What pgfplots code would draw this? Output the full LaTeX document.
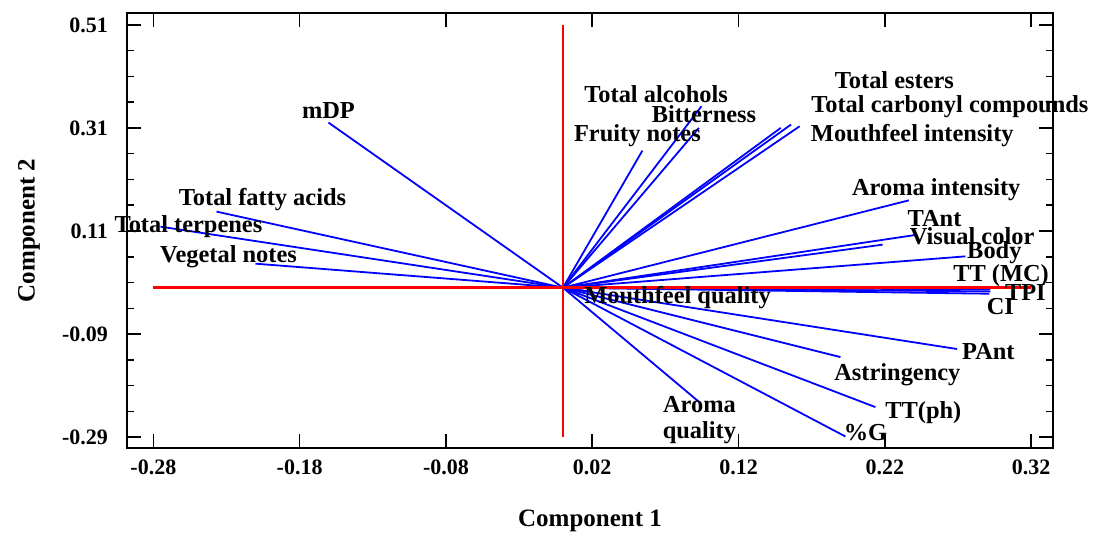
\documentclass[border=0pt]{standalone}
\usepackage{pgfplots}
\pgfplotsset{compat=1.18}
\usepackage{fontspec}
\setmainfont{Liberation Serif}

\begin{document}
\begin{tikzpicture}[
  vec/.style={blue, line width=0.9pt},
  lab/.style={font=\fontsize{12.2}{13}\selectfont\bfseries, inner sep=0pt},
]
\begin{axis}[
  scale only axis, width=463pt, height=217.5pt,
  xmin=-0.298, xmax=0.335, ymin=-0.311, ymax=0.533,
  xtick={-0.28,-0.18,-0.08,0.02,0.12,0.22,0.32},
  xticklabels={-0.28,-0.18,-0.08,0.02,0.12,0.22,0.32},
  ytick={-0.29,-0.09,0.11,0.31,0.51},
  yticklabels={-0.29,-0.09,0.11,0.31,0.51},
  minor y tick num=3,
  tick align=inside,
  major tick length=7pt, minor tick length=3.5pt,
  axis line style={line width=1pt},
  every tick/.style={black, line width=0.8pt},
  ticklabel style={font=\fontsize{11}{13}\selectfont\bfseries},
  xticklabel style={yshift=-2.5pt},
  yticklabel style={xshift=-6pt},
  xlabel={Component 1}, ylabel={Component 2},
  label style={font=\fontsize{12.5}{15}\selectfont\bfseries},
  xlabel style={at={(axis description cs:0.5,-0.168)}, anchor=center},
  ylabel style={at={(axis description cs:-0.106,0.5)}, anchor=center},
  clip=false,
]
% loading vectors
\addplot[vec] coordinates {(0,0) (-0.1603,0.3204)};  % mDP
\addplot[vec] coordinates {(0,0) (-0.2368,0.1476)};  % Total fatty acids
\addplot[vec] coordinates {(0,0) (-0.2751,0.1184)};  % Total terpenes
\addplot[vec] coordinates {(0,0) (-0.2102,0.0466)};  % Vegetal notes
\addplot[vec] coordinates {(0,0) (0.0543,0.2660)};   % Fruity notes
\addplot[vec] coordinates {(0,0) (0.0947,0.3520)};   % Total alcohols
\addplot[vec] coordinates {(0,0) (0.0929,0.3101)};   % Bitterness
\addplot[vec] coordinates {(0,0) (0.1559,0.3165)};   % Total esters
\addplot[vec] coordinates {(0,0) (0.1489,0.3101)};   % Total carbonyl compounds
\addplot[vec] coordinates {(0,0) (0.1618,0.3132)};   % Mouthfeel intensity
\addplot[vec] coordinates {(0,0) (0.2365,0.1695)};   % Aroma intensity
\addplot[vec] coordinates {(0,0) (0.2185,0.0835)};   % TAnt
\addplot[vec] coordinates {(0,0) (0.2423,0.1029)};   % Visual color
\addplot[vec] coordinates {(0,0) (0.2751,0.0608)};   % Body
\addplot[vec] coordinates {(0,0) (0.2922,-0.0030)};  % TT (MC)
\addplot[vec] coordinates {(0,0) (0.2922,-0.0072)};  % TPI
\addplot[vec] coordinates {(0,0) (0.2915,-0.0117)};  % CI
\addplot[vec] coordinates {(0,0) (0.0200,-0.0080)};  % Mouthfeel quality
\addplot[vec] coordinates {(0,0) (0.2694,-0.1190)};  % PAnt
\addplot[vec] coordinates {(0,0) (0.1897,-0.1346)};  % Astringency
\addplot[vec] coordinates {(0,0) (0.2136,-0.2317)};  % TT(ph)
\addplot[vec] coordinates {(0,0) (0.1931,-0.2887)};  % %G
\addplot[vec] coordinates {(0,0) (0.0940,-0.2239)};  % Aroma quality
% reference axes
\addplot[red, line width=1.2pt] coordinates {(-0.28,0) (0.32,0)};
\addplot[red, line width=1.2pt] coordinates {(0,-0.29) (0,0.51)};
% variable names
\node[lab] at (axis cs:-0.1603,0.3437) {mDP};
\node[lab] at (axis cs:-0.2054,0.1709) {Total fatty acids};
\node[lab] at (axis cs:-0.2560,0.1184) {Total terpenes};
\node[lab] at (axis cs:-0.2286,0.0602) {Vegetal notes};
\node[lab] at (axis cs:0.0637,0.3748) {Total alcohols};
\node[lab] at (axis cs:0.0964,0.3359) {Bitterness};
\node[lab] at (axis cs:0.0509,0.2951) {Fruity notes};
\node[lab] at (axis cs:0.2266,0.4019) {Total esters};
\node[lab] at (axis cs:0.2645,0.3515) {Total carbonyl compounds};
\node[lab] at (axis cs:0.2388,0.2951) {Mouthfeel intensity};
\node[lab] at (axis cs:0.2552,0.1903) {Aroma intensity};
\node[lab] at (axis cs:0.2540,0.1340) {TAnt};
\node[lab] at (axis cs:0.2797,0.0990) {Visual color};
\node[lab] at (axis cs:0.2949,0.0680) {Body};
\node[lab] at (axis cs:0.2995,0.0233) {TT (MC)};
\node[lab] at (axis cs:0.3161,-0.0097) {TPI};
\node[lab] at (axis cs:0.2990,-0.0369) {CI};
\node[lab] at (axis cs:0.0783,-0.0194) {Mouthfeel quality};
\node[lab] at (axis cs:0.2908,-0.1243) {PAnt};
\node[lab] at (axis cs:0.2286,-0.1689) {Astringency};
\node[lab] at (axis cs:0.2464,-0.2427) {TT(ph)};
\node[lab] at (axis cs:0.2068,-0.2816) {\%G};
\node[lab, align=center] at (axis cs:0.0933,-0.2563) {Aroma\\quality};
% page frame
\path (rel axis cs:-0.1372,-0.2046) rectangle (rel axis cs:1.0432,1.0299);
\end{axis}
\end{tikzpicture}
\end{document}
